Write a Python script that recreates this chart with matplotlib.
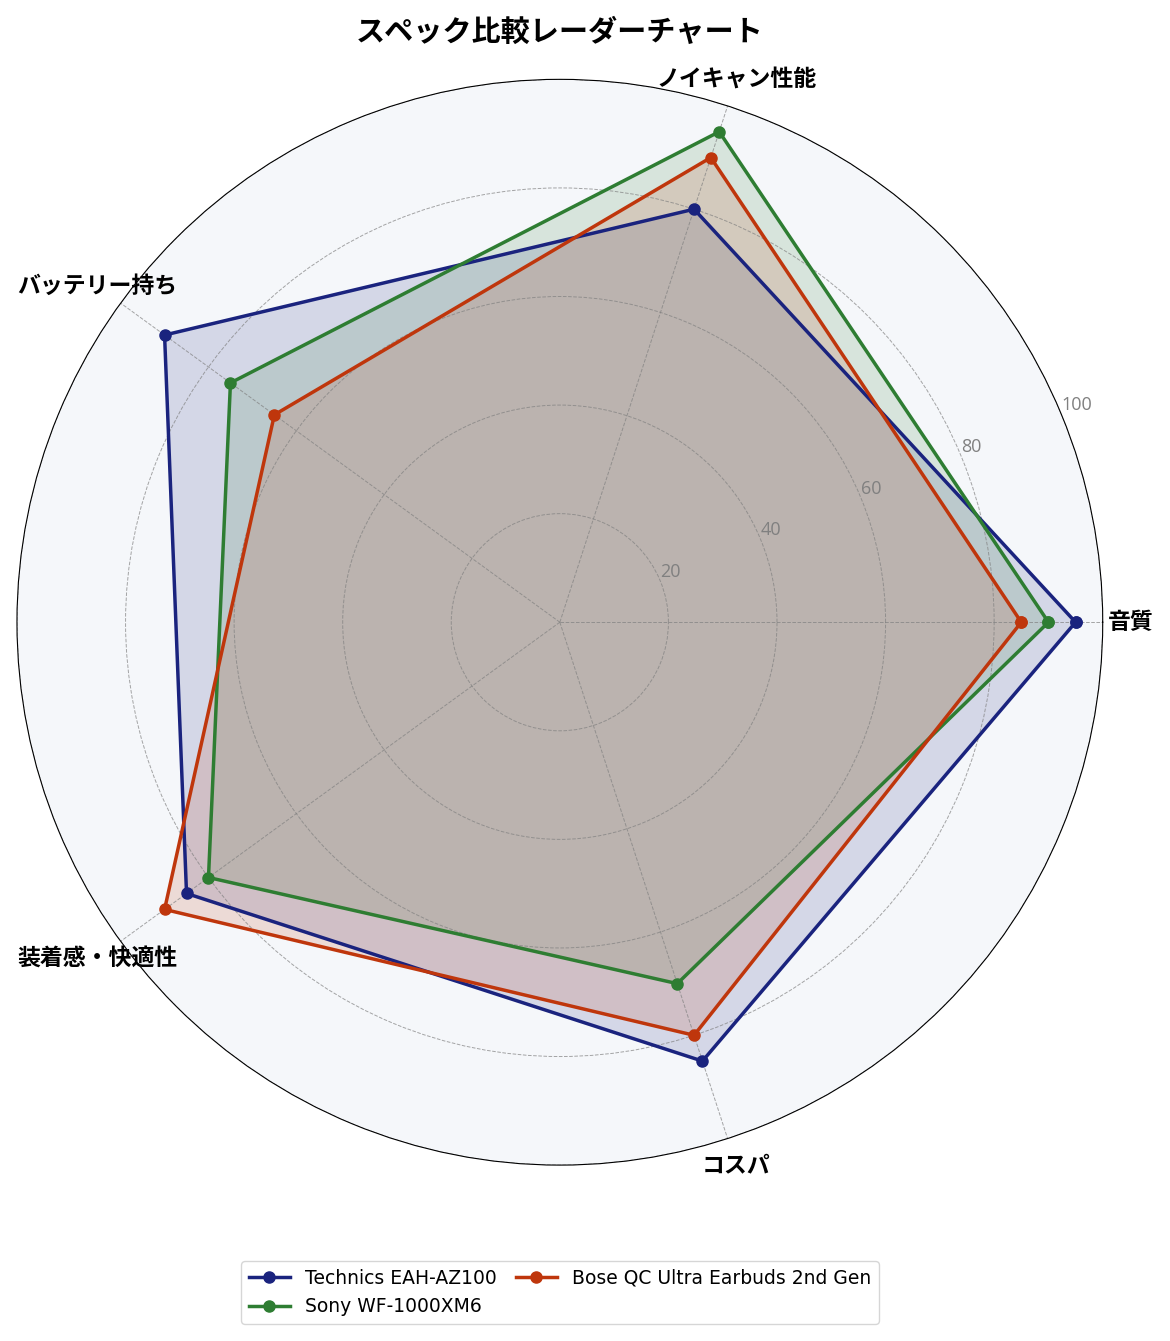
import numpy as np
import matplotlib
matplotlib.use("Agg")
import matplotlib.pyplot as plt

plt.rcParams['font.family'] = ['Open Sans', 'Noto Sans CJK JP', 'DejaVu Sans']

# axes and products
categories = ['音質', 'ノイキャン性能', 'バッテリー持ち', '装着感・快適性', 'コスパ']
products = ['Technics EAH-AZ100', 'Sony WF-1000XM6', 'Bose QC Ultra Earbuds 2nd Gen']
technics = [95, 80, 90, 85, 85]
sony = [90, 95, 75, 80, 70]
bose = [85, 90, 65, 90, 80]
colors = ['#1a237e', '#2e7d32', '#bf360c']
rticks = [20, 40, 60, 80, 100]

angles = np.linspace(0, 2 * np.pi, len(categories), endpoint=False)
angles_c = np.concatenate([angles, angles[:1]])

fig = plt.figure(figsize=(11.7, 13.41), dpi=100)
ax = fig.add_axes([0.0145, 0.131, 0.928, 0.81], projection='polar')
ax.set_facecolor('#f5f7fa')

for name, vals, c in zip(products, [technics, sony, bose], colors):
    v = np.concatenate([vals, vals[:1]])
    ax.plot(angles_c, v, color=c, linewidth=2.5, marker='o', markersize=8, label=name)
    ax.fill(angles_c, v, color=c, alpha=0.15)

ax.set_ylim(0, 100)
ax.set_yticks(rticks)
ax.set_yticklabels([str(t) for t in rticks], color='gray', fontsize=13)
ax.set_rlabel_position(22.5)
ax.set_xticks(angles)
ax.set_xticklabels(categories, fontsize=16.5, fontweight='bold',
                   family=['Noto Sans CJK JP', 'DejaVu Sans'])
ax.tick_params(axis='x', pad=10)
ax.grid(color='gray', linestyle='--', linewidth=0.7, alpha=0.7)

ax.set_title('スペック比較レーダーチャート', fontsize=21, fontweight='bold', pad=28,
             family=['Noto Sans CJK JP', 'DejaVu Sans'])
fig.legend(loc='lower center', bbox_to_anchor=(0.4786, 0.006), ncol=2,
           prop={'family': 'DejaVu Sans', 'size': 13.5},
           handlelength=2.2, columnspacing=1.0, labelspacing=0.5)

fig.savefig('out.png', dpi=100)
